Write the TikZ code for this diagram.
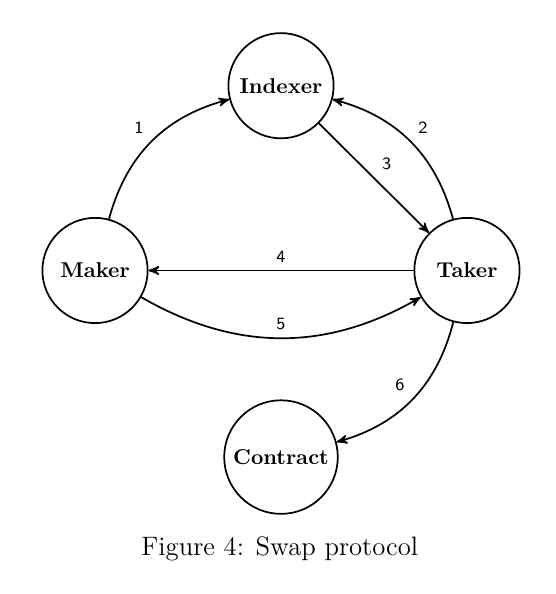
\documentclass[tikz,border=0pt]{standalone}
\usepackage{tikz}
\usetikzlibrary{shapes,arrows,positioning,calc}

\begin{document}
\begin{tikzpicture}[>=stealth', thick]
    \tikzstyle{party} = [draw, circle, minimum size=1.72cm, inner sep=0.3333em, font=\bfseries]
    \tikzstyle{msg} = [font=\sffamily\footnotesize]

    \useasboundingbox (-1.553,-5.288) rectangle (7.535,4.421);

    % Parties
    \node[party] (maker) at (0,0) {Maker};
    \node[party] (taker) at (6.08,0) {Taker};
    \node[party] (indexer) at (3.04,3.02) {Indexer};
    \node[party] (contract) at (3.04,-3.05) {Contract};

    % Messages
    \draw[->] (maker) to[bend left=30] node[msg, above left] {1} (indexer);
    \draw[->] (taker) to[bend right=30] node[msg, above right] {2} (indexer);
    \draw[->] (indexer) -- node[msg, above right] {3} (taker);
    \draw[->] (taker) -- node[msg, above] {4} (maker);
    \draw[->] (maker) to[bend right=30] node[msg, above] {5} (taker);
    \draw[->] (taker) to[bend left=30] node[msg, above left] {6} (contract);

    % Caption
    \node[font=\fontsize{12.4}{15}\selectfont] (caption) at (3.02,-4.55) {Figure 4: Swap protocol};
\end{tikzpicture}
\end{document}
